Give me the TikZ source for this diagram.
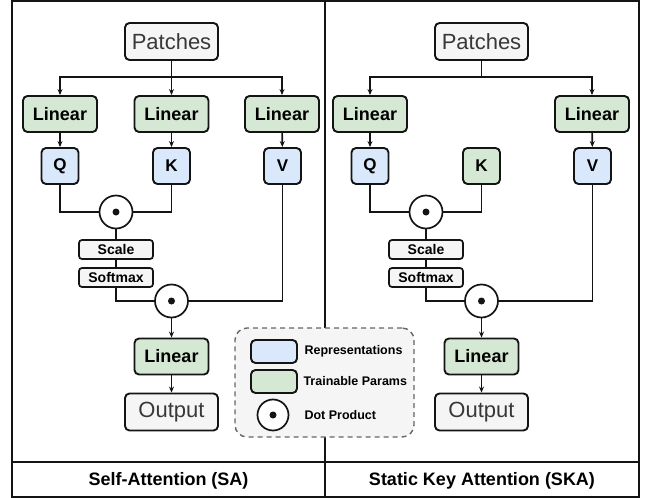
\documentclass[tikz,border=0pt]{standalone}
\usepackage{fontspec}
\setmainfont{Liberation Sans}
\usetikzlibrary{arrows.meta,calc}

\definecolor{repblue}{HTML}{DAE8FC}
\definecolor{trgreen}{HTML}{D5E8D4}
\definecolor{plaingray}{HTML}{F5F5F5}
\definecolor{edge}{HTML}{141414}
\definecolor{legendedge}{HTML}{666666}

\tikzset{
  box/.style={draw=edge, line width=1.9pt, rounded corners=4.5pt, align=center, inner sep=0pt},
  iobox/.style={box, fill=plaingray, minimum width=93pt, minimum height=37pt,
    text=black!78, font=\fontsize{22}{26}\selectfont},
  linbox/.style={box, fill=trgreen, minimum width=74pt, minimum height=36pt,
    font=\bfseries\fontsize{18}{21}\selectfont},
  repbox/.style={box, fill=repblue, minimum width=37pt, minimum height=36pt,
    font=\bfseries\fontsize{17}{20}\selectfont},
  keybox/.style={repbox, fill=trgreen},
  opbox/.style={box, line width=1.7pt, rounded corners=3pt, fill=plaingray,
    minimum width=74pt, minimum height=19pt, font=\bfseries\fontsize{14}{16}\selectfont},
  dotop/.style={circle, draw=edge, line width=1.7pt, fill=white, inner sep=0pt,
    minimum size=33pt, path picture={\fill[edge] (path picture bounding box.center) circle (3.5pt);}},
  wire/.style={draw=edge, line width=1.6pt},
  arr/.style={wire, -{Stealth[length=6pt,width=5pt]}},
  title/.style={font=\bfseries\fontsize{18}{21}\selectfont},
  legendtext/.style={anchor=west, font=\bfseries\fontsize{12.5}{15}\selectfont},
}

\begin{document}
\begin{tikzpicture}[x=1pt, y=-1pt]
\useasboundingbox (0,0) rectangle (649,498);

% outer frame, panel divider and caption row
\draw[line width=2.2pt, draw=edge] (12,1) rectangle (639,497);
\draw[line width=2.2pt, draw=edge] (325,1) -- (325,497);
\draw[line width=2.2pt, draw=edge] (12,462) -- (639,462);

% ---------------- Self-Attention ----------------
\node[iobox] (saP) at (171.5,41.5) {Patches};
\node[linbox] (saLq) at (60,114) {Linear};
\node[linbox] (saLk) at (171.5,114) {Linear};
\node[linbox] (saLv) at (282,114) {Linear};
\node[repbox] (saQ) at (60,166) {Q};
\node[repbox] (saK) at (171.5,166) {K};
\node[repbox] (saV) at (282.5,166) {V};
\node[dotop] (saD1) at (116,212) {};
\node[opbox] (saS) at (116,249.5) {Scale};
\node[opbox] (saSm) at (116,277.5) {Softmax};
\node[dotop] (saD2) at (171.5,301) {};
\node[linbox] (saLo) at (171.5,356.5) {Linear};
\node[iobox] (saO) at (171.5,412) {Output};
\coordinate (saBr) at (171.5,77);

\draw[wire] (saP.south) -- (saBr);
\draw[arr] (saBr) -| (saLq.north);
\draw[arr] (saBr) -- (saLk.north);
\draw[arr] (saBr) -| (saLv.north);
\draw[arr] (saLq) -- (saQ);
\draw[arr] (saLk) -- (saK);
\draw[arr] (saLv) -- (saV);
\draw[wire] (saQ.south) |- (saD1.west);
\draw[wire] (saK.south) |- (saD1.east);
\draw[wire] (saD1) -- (saS);
\draw[wire] (saS) -- (saSm);
\draw[wire] (saSm.south) |- (saD2.west);
\draw[wire] (saV.south) |- (saD2.east);
\draw[arr] (saD2) -- (saLo);
\draw[arr] (saLo) -- (saO);

\node[title] (saT) at (168.5,481) {Self-Attention (SA)};

% ---------------- Static Key Attention ----------------
\node[iobox] (skP) at (481.5,41.5) {Patches};
\node[linbox] (skLq) at (370,114) {Linear};
\node[linbox] (skLv) at (592,114) {Linear};
\node[repbox] (skQ) at (370,166) {Q};
\node[keybox] (skK) at (481.5,166) {K};
\node[repbox] (skV) at (592.5,166) {V};
\node[dotop] (skD1) at (426,212) {};
\node[opbox] (skS) at (426,249.5) {Scale};
\node[opbox] (skSm) at (426,277.5) {Softmax};
\node[dotop] (skD2) at (481.5,301) {};
\node[linbox] (skLo) at (481.5,356.5) {Linear};
\node[iobox] (skO) at (481.5,412) {Output};
\coordinate (skBr) at (481.5,77);

\draw[wire] (skP.south) -- (skBr);
\draw[arr] (skBr) -| (skLq.north);
\draw[arr] (skBr) -| (skLv.north);
\draw[arr] (skLq) -- (skQ);
\draw[arr] (skLv) -- (skV);
\draw[wire] (skQ.south) |- (skD1.west);
\draw[wire] (skK.south) |- (skD1.east);
\draw[wire] (skD1) -- (skS);
\draw[wire] (skS) -- (skSm);
\draw[wire] (skSm.south) |- (skD2.west);
\draw[wire] (skV.south) |- (skD2.east);
\draw[arr] (skD2) -- (skLo);
\draw[arr] (skLo) -- (skO);

\node[title] (skT) at (482,481) {Static Key Attention (SKA)};

% ---------------- legend ----------------
\node[draw=legendedge, fill=plaingray, line width=1.4pt, dash pattern=on 5pt off 4pt,
      rounded corners=12pt, minimum width=179pt, minimum height=109pt, inner sep=0pt]
      (lg) at (324.5,382.5) {};
\node[box, fill=repblue, minimum width=46pt, minimum height=23pt] (lgRep) at (274,351.5) {};
\node[box, fill=trgreen, minimum width=46pt, minimum height=23pt] (lgTr) at (274,381.5) {};
\node[dotop, minimum size=31pt] (lgDot) at (273,415) {};
\node[legendtext] (lgRepT) at (301,351.5) {Representations};
\node[legendtext] (lgTrT) at (300,381.5) {Trainable Params};
\node[legendtext] (lgDotT) at (301,415) {Dot Product};
\end{tikzpicture}
\end{document}
